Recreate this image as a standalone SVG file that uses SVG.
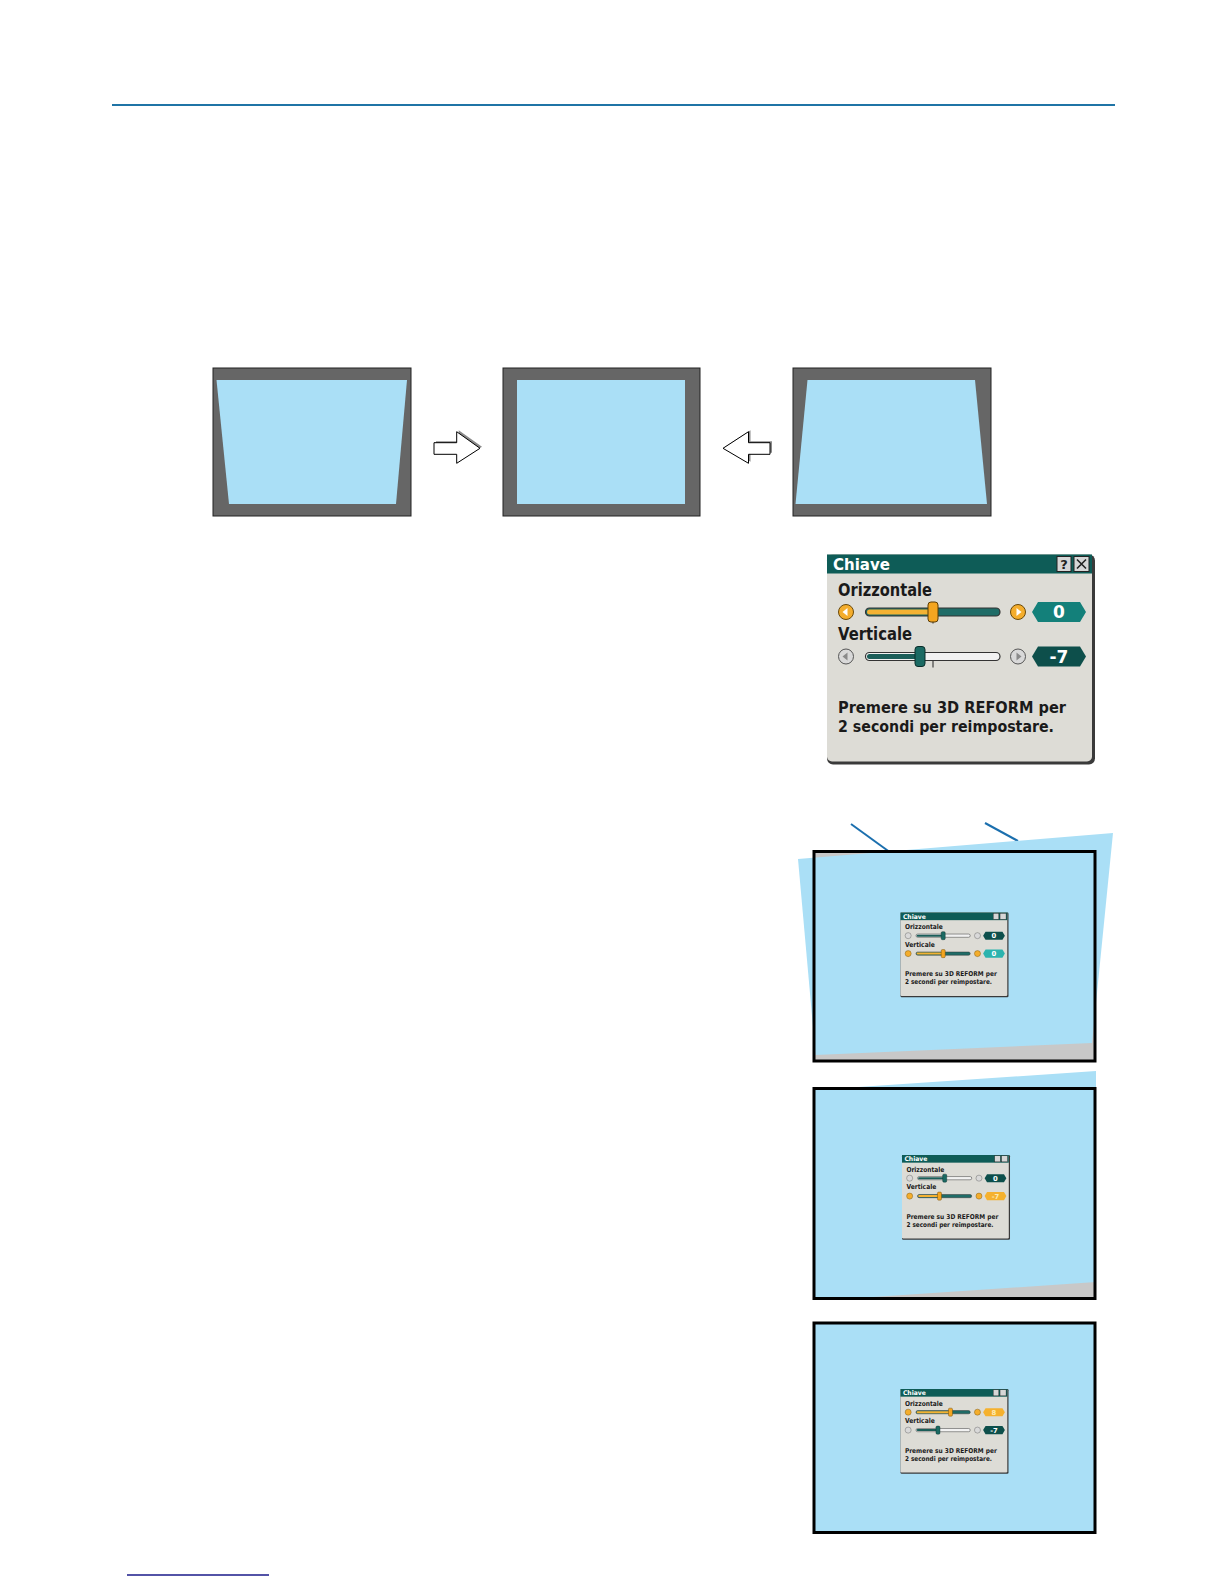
<svg xmlns="http://www.w3.org/2000/svg" width="1224" height="1584" viewBox="0 0 1224 1584">
<style>
.frm{fill:#666;stroke:#222;stroke-width:1}
.sky{fill:#aadff6}
.gry{fill:#c8c8c8}
.scr{fill:none;stroke:#000;stroke-width:3}
.arw{fill:#fff;stroke:#000;stroke-width:1}
.shd{fill:#8a8a8a}
.call{stroke:#1b6fae;stroke-width:2;fill:none}
.dsh{fill:#3a3a3a}
.dbody{fill:#dddcd6}
.dtitle{fill:#0e5c57}
.ibox{fill:#d6d6d6;stroke:#222;stroke-width:1}
.ttl{font-family:"DejaVu Sans","Liberation Sans",sans-serif;font-weight:bold;fill:#fff}
.dt{font-family:"DejaVu Sans","Liberation Sans",sans-serif;font-weight:bold;fill:#1a1a1a}
.val{font-family:"DejaVu Sans","Liberation Sans",sans-serif;font-weight:bold;fill:#fff;text-anchor:middle;font-size:17px}
.bH{fill:#f4ad2c;stroke:#6b4a0a;stroke-width:1}
.bN{fill:#d9d9d9;stroke:#555;stroke-width:1}
.tH{fill:#fff}
.tN{fill:#8a8a8a}
.trk{stroke:#333;stroke-width:1.2}
.kH{fill:#f3a520;stroke:#5b3c05;stroke-width:1}
.kN{fill:#1b6a63;stroke:#0a2d2a;stroke-width:1}
.tick{stroke:#222;stroke-width:1}
.vTeal{fill:#13807a}
.vDark{fill:#0d4f4b}
.vCyan{fill:#2bb3ae}
.vOrg{fill:#f5b12e}
</style>
<defs>
<clipPath id="clipA"><rect x="814" y="851.5" width="281" height="209.5"/></clipPath>
<clipPath id="clipB"><rect x="814" y="1060" width="282" height="238.5"/></clipPath>
</defs>

<!-- header rule -->
<line x1="112" y1="105" x2="1115" y2="105" stroke="#1f74a6" stroke-width="2"/>

<!-- top frames -->
<g id="frame1">
<rect class="frm" x="213" y="368" width="198" height="148"/>
<polygon class="sky" points="216.5,380 407,380 396,504 229,504"/>
</g>
<g id="frame2">
<rect class="frm" x="503" y="368" width="197" height="148"/>
<rect class="sky" x="517" y="380" width="168" height="124"/>
</g>
<g id="frame3">
<rect class="frm" x="793" y="368" width="198" height="148"/>
<polygon class="sky" points="807.5,380 975,380 987,504 795.5,504"/>
</g>

<g id="connectors">
<g id="arrowRight">
<polygon class="shd" points="436,441.2 458.7,441.2 458.7,430.2 482,446.8 458.7,461.8 458.7,452.8 436,452.8"/>
<polygon class="arw" points="434,442.7 456.7,442.7 456.7,431.7 480,448.3 456.7,463.3 456.7,454.3 434,454.3"/>
</g>
<g id="arrowLeft">
<polygon class="shd" points="772,441.2 750.5,441.2 750.5,430.2 725,446.8 750.5,461.8 750.5,452.8 772,452.8"/>
<polygon class="arw" points="770,442.7 748.5,442.7 748.5,431.7 723,448.3 748.5,463.3 748.5,454.3 770,454.3"/>
</g>
<line class="call" x1="851" y1="824" x2="891" y2="853"/>
<line class="call" x1="985" y1="823" x2="1018" y2="841"/>
<line class="call" x1="818" y1="1254" x2="861" y2="1254"/>
</g>

<!-- big dialog -->
<g id="dialogMain" transform="translate(827,554.5)">
<rect class="dsh" x="0" y="0" width="268" height="210" rx="6"/>
<rect class="dbody" x="0" y="0" width="265" height="207" rx="5"/>
<rect class="dbody" x="0" y="0" width="265" height="20"/>
<rect class="dtitle" x="0" y="0" width="265" height="19"/>
<text class="ttl" x="6" y="15.5" font-size="16" textLength="57" lengthAdjust="spacingAndGlyphs">Chiave</text>
<rect class="ibox" x="230" y="2" width="14" height="15"/>
<text x="237" y="14.5" font-family="DejaVu Sans, sans-serif" font-weight="bold" font-size="13" fill="#222" text-anchor="middle">?</text>
<rect class="ibox" x="247" y="2" width="15" height="15"/>
<path d="M250,5 L259,14 M259,5 L250,14" stroke="#222" stroke-width="1.6"/>
<text class="dt" x="11" y="41.5" font-size="17" textLength="94" lengthAdjust="spacingAndGlyphs">Orizzontale</text>
<g id="rowH">
<circle class="bH" cx="19" cy="57.5" r="7.5"/><path class="tH" d="M15.5,57.5 l5,-4 v8z"/>
<rect class="trk" x="38.5" y="53.5" width="134.5" height="8" rx="4" fill="#1f6c67"/>
<rect x="40" y="55" width="66" height="5" rx="2.5" fill="#f4b233"/>
<line class="tick" x1="106" y1="62" x2="106" y2="69"/>
<rect class="kH" x="101" y="47.5" width="10" height="20" rx="3"/>
<circle class="bH" cx="191" cy="57.5" r="7.5"/><path class="tH" d="M194.5,57.5 l-5,-4 v8z"/>
<polygon class="vTeal" points="205,57.5 211,47.5 253,47.5 259,57.5 253,67.5 211,67.5"/>
<text class="val" x="232" y="63.5">0</text>
</g>
<text class="dt" x="11" y="85.5" font-size="17" textLength="74" lengthAdjust="spacingAndGlyphs">Verticale</text>
<g id="rowN">
<circle class="bN" cx="19" cy="102" r="7.5"/><path class="tN" d="M15.5,102 l5,-4 v8z"/>
<rect class="trk" x="38.5" y="98" width="134.5" height="8" rx="4" fill="#f2f2f2"/>
<rect x="40" y="99.5" width="53" height="5" rx="2.5" fill="#1b5e59"/>
<line class="tick" x1="106" y1="106.5" x2="106" y2="113"/>
<rect class="kN" x="88" y="92" width="10" height="20" rx="3"/>
<circle class="bN" cx="191" cy="102" r="7.5"/><path class="tN" d="M194.5,102 l-5,-4 v8z"/>
<polygon class="vDark" points="205,102 211,92 253,92 259,102 253,112 211,112"/>
<text class="val" x="232" y="108">-7</text>
</g>
<text class="dt" x="11" y="158.5" font-size="16.5" textLength="228" lengthAdjust="spacingAndGlyphs">Premere su 3D REFORM per</text>
<text class="dt" x="11" y="177.5" font-size="16.5" textLength="216" lengthAdjust="spacingAndGlyphs">2 secondi per reimpostare.</text>
</g>

<!-- screen A -->
<g id="screenA">
<rect class="gry" x="814" y="851.5" width="281" height="209.5"/>
<polygon class="sky" points="798,859 1113,833 1092,1043 815.5,1055"/>
<rect class="scr" x="814" y="851.5" width="281" height="209.5"/>
<g id="dialogA" transform="translate(900.5,912.5) scale(0.403)">
<rect class="dsh" x="0" y="0" width="268" height="210" rx="3"/>
<rect class="dbody" x="0" y="0" width="265" height="207" rx="3"/>
<rect class="dtitle" x="0" y="0" width="265" height="19"/>
<text class="ttl" x="6" y="15.5" font-size="16" textLength="57" lengthAdjust="spacingAndGlyphs">Chiave</text>
<rect class="ibox" x="230" y="2" width="14" height="15"/><rect class="ibox" x="247" y="2" width="15" height="15"/>
<text class="dt" x="11" y="41.5" font-size="17" textLength="94" lengthAdjust="spacingAndGlyphs">Orizzontale</text>
<circle class="bN" cx="19" cy="57.5" r="7.5"/>
<rect class="trk" x="38.5" y="53.5" width="134.5" height="8" rx="4" fill="#f2f2f2"/>
<rect x="40" y="55" width="66" height="5" rx="2.5" fill="#1b5e59"/>
<rect class="kN" x="101" y="47.5" width="10" height="20" rx="3"/>
<circle class="bN" cx="191" cy="57.5" r="7.5"/>
<polygon class="vDark" points="205,57.5 211,47.5 253,47.5 259,57.5 253,67.5 211,67.5"/>
<text class="val" x="232" y="63.5">0</text>
<text class="dt" x="11" y="85.5" font-size="17" textLength="74" lengthAdjust="spacingAndGlyphs">Verticale</text>
<circle class="bH" cx="19" cy="102" r="7.5"/>
<rect class="trk" x="38.5" y="98" width="134.5" height="8" rx="4" fill="#1f6c67"/>
<rect x="40" y="99.5" width="66" height="5" rx="2.5" fill="#f4b233"/>
<rect class="kH" x="101" y="92" width="10" height="20" rx="3"/>
<circle class="bH" cx="191" cy="102" r="7.5"/>
<polygon class="vCyan" points="205,102 211,92 253,92 259,102 253,112 211,112"/>
<text class="val" x="232" y="108">0</text>
<text class="dt" x="11" y="158.5" font-size="16.5" textLength="228" lengthAdjust="spacingAndGlyphs">Premere su 3D REFORM per</text>
<text class="dt" x="11" y="177.5" font-size="16.5" textLength="216" lengthAdjust="spacingAndGlyphs">2 secondi per reimpostare.</text>
</g>
</g>

<!-- screen B -->
<g id="screenB">
<rect class="gry" x="814" y="1088.5" width="281" height="210"/>
<polygon class="sky" clip-path="url(#clipB)" points="814,1090 1096,1071 1096,1282 814,1301"/>
<rect class="scr" x="814" y="1088.5" width="281" height="210"/>
<g id="dialogB" transform="translate(902,1155) scale(0.403)">
<rect class="dsh" x="0" y="0" width="268" height="210" rx="3"/>
<rect class="dbody" x="0" y="0" width="265" height="207" rx="3"/>
<rect class="dtitle" x="0" y="0" width="265" height="19"/>
<text class="ttl" x="6" y="15.5" font-size="16" textLength="57" lengthAdjust="spacingAndGlyphs">Chiave</text>
<rect class="ibox" x="230" y="2" width="14" height="15"/><rect class="ibox" x="247" y="2" width="15" height="15"/>
<text class="dt" x="11" y="41.5" font-size="17" textLength="94" lengthAdjust="spacingAndGlyphs">Orizzontale</text>
<circle class="bN" cx="19" cy="57.5" r="7.5"/>
<rect class="trk" x="38.5" y="53.5" width="134.5" height="8" rx="4" fill="#f2f2f2"/>
<rect x="40" y="55" width="66" height="5" rx="2.5" fill="#1b5e59"/>
<rect class="kN" x="101" y="47.5" width="10" height="20" rx="3"/>
<circle class="bN" cx="191" cy="57.5" r="7.5"/>
<polygon class="vDark" points="205,57.5 211,47.5 253,47.5 259,57.5 253,67.5 211,67.5"/>
<text class="val" x="232" y="63.5">0</text>
<text class="dt" x="11" y="85.5" font-size="17" textLength="74" lengthAdjust="spacingAndGlyphs">Verticale</text>
<circle class="bH" cx="19" cy="102" r="7.5"/>
<rect class="trk" x="38.5" y="98" width="134.5" height="8" rx="4" fill="#1f6c67"/>
<rect x="40" y="99.5" width="53" height="5" rx="2.5" fill="#f4b233"/>
<rect class="kH" x="88" y="92" width="10" height="20" rx="3"/>
<circle class="bH" cx="191" cy="102" r="7.5"/>
<polygon class="vOrg" points="205,102 211,92 253,92 259,102 253,112 211,112"/>
<text class="val" x="232" y="108" fill="#fde9b0" style="fill:#fde9b0">-7</text>
<text class="dt" x="11" y="158.5" font-size="16.5" textLength="228" lengthAdjust="spacingAndGlyphs">Premere su 3D REFORM per</text>
<text class="dt" x="11" y="177.5" font-size="16.5" textLength="216" lengthAdjust="spacingAndGlyphs">2 secondi per reimpostare.</text>
</g>
</g>

<!-- screen C -->
<g id="screenC">
<rect class="sky" x="814" y="1323" width="281" height="209.5"/>
<rect class="scr" x="814" y="1323" width="281" height="209.5"/>
<g id="dialogC" transform="translate(900.5,1389) scale(0.403)">
<rect class="dsh" x="0" y="0" width="268" height="210" rx="3"/>
<rect class="dbody" x="0" y="0" width="265" height="207" rx="3"/>
<rect class="dtitle" x="0" y="0" width="265" height="19"/>
<text class="ttl" x="6" y="15.5" font-size="16" textLength="57" lengthAdjust="spacingAndGlyphs">Chiave</text>
<rect class="ibox" x="230" y="2" width="14" height="15"/><rect class="ibox" x="247" y="2" width="15" height="15"/>
<text class="dt" x="11" y="41.5" font-size="17" textLength="94" lengthAdjust="spacingAndGlyphs">Orizzontale</text>
<circle class="bH" cx="19" cy="57.5" r="7.5"/>
<rect class="trk" x="38.5" y="53.5" width="134.5" height="8" rx="4" fill="#1f6c67"/>
<rect x="40" y="55" width="84" height="5" rx="2.5" fill="#f4b233"/>
<rect class="kH" x="119" y="47.5" width="10" height="20" rx="3"/>
<circle class="bH" cx="191" cy="57.5" r="7.5"/>
<polygon class="vOrg" points="205,57.5 211,47.5 253,47.5 259,57.5 253,67.5 211,67.5"/>
<text class="val" x="232" y="63.5" style="fill:#fde9b0">8</text>
<text class="dt" x="11" y="85.5" font-size="17" textLength="74" lengthAdjust="spacingAndGlyphs">Verticale</text>
<circle class="bN" cx="19" cy="102" r="7.5"/>
<rect class="trk" x="38.5" y="98" width="134.5" height="8" rx="4" fill="#f2f2f2"/>
<rect x="40" y="99.5" width="53" height="5" rx="2.5" fill="#1b5e59"/>
<rect class="kN" x="88" y="92" width="10" height="20" rx="3"/>
<circle class="bN" cx="191" cy="102" r="7.5"/>
<polygon class="vDark" points="205,102 211,92 253,92 259,102 253,112 211,112"/>
<text class="val" x="232" y="108">-7</text>
<text class="dt" x="11" y="158.5" font-size="16.5" textLength="228" lengthAdjust="spacingAndGlyphs">Premere su 3D REFORM per</text>
<text class="dt" x="11" y="177.5" font-size="16.5" textLength="216" lengthAdjust="spacingAndGlyphs">2 secondi per reimpostare.</text>
</g>
</g>

<!-- footer rule -->
<line x1="127" y1="1575" x2="269" y2="1575" stroke="#1a1a8a" stroke-width="1.5"/>
</svg>
